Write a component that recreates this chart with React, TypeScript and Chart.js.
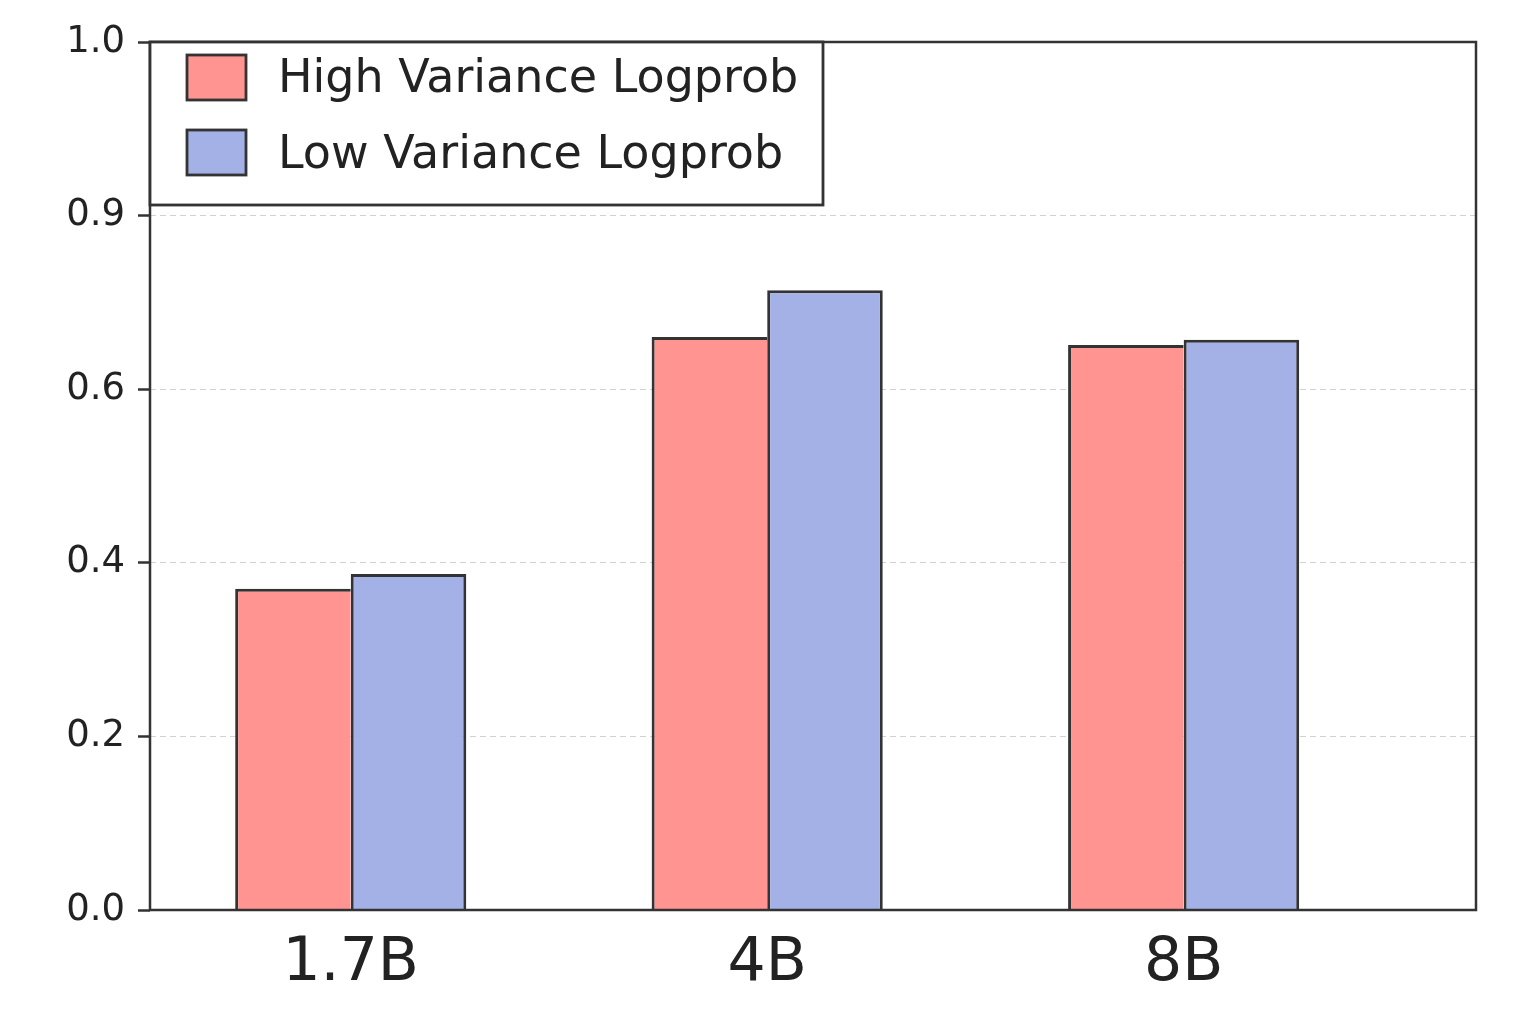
import React, { useEffect, useRef } from 'react';
import { Chart, registerables } from 'chart.js';

Chart.register(...registerables);

const CATEGORIES = ['1.7B', '4B', '8B'];
const SERIES_LABELS = ['High Variance Logprob', 'Low Variance Logprob'];
const HIGH_VARIANCE = [0.370, 0.660, 0.651];
const LOW_VARIANCE = [0.387, 0.714, 0.657];
const Y_TICK_VALUES = [0, 0.2, 0.4, 0.6, 0.8, 1.0];
const Y_TICK_LABELS = ['0.0', '0.2', '0.4', '0.6', '0.9', '1.0'];

const FONT = '"DejaVu Sans", sans-serif';
const DARK = '#333333';
const TEXT = '#222222';
const RED = '#FF9490';
const BLUE = '#A3B1E6';

const framePlugin = {
  id: 'frame',
  afterDatasetsDraw(chart: any) {
    const { ctx, chartArea: a } = chart;
    ctx.save();
    ctx.strokeStyle = DARK;
    ctx.lineWidth = 2.5;
    ctx.strokeRect(a.left, a.top, a.right - a.left, a.bottom - a.top);
    ctx.restore();
  },
};

const legendPlugin = {
  id: 'boxLegend',
  afterDraw(chart: any) {
    const { ctx, chartArea: a } = chart;
    const x0 = a.left;
    const y0 = a.top;
    ctx.save();
    ctx.fillStyle = '#ffffff';
    ctx.fillRect(x0, y0, 673, 163);
    ctx.strokeStyle = DARK;
    ctx.lineWidth = 2.8;
    ctx.strokeRect(x0, y0, 673, 163);
    chart.data.datasets.forEach((ds: any, i: number) => {
      const sy = y0 + 13 + i * 75;
      ctx.fillStyle = ds.backgroundColor;
      ctx.fillRect(x0 + 37, sy, 59, 45);
      ctx.strokeStyle = DARK;
      ctx.lineWidth = 2.8;
      ctx.strokeRect(x0 + 37, sy, 59, 45);
      ctx.fillStyle = TEXT;
      ctx.font = `46px ${FONT}`;
      ctx.textAlign = 'left';
      ctx.textBaseline = 'alphabetic';
      ctx.fillText(ds.label, x0 + 128, y0 + 50 + i * 76);
    });
    ctx.restore();
  },
};

export default function App() {
  const canvasRef = useRef<HTMLCanvasElement | null>(null);

  useEffect(() => {
    const canvas = canvasRef.current;
    if (!canvas) return;
    const chart = new Chart(canvas, {
      type: 'bar',
      data: {
        datasets: [
          {
            label: SERIES_LABELS[0],
            data: HIGH_VARIANCE.map((v, i) => ({ x: i, y: v })),
            backgroundColor: RED,
            borderColor: DARK,
            borderWidth: { left: 3, top: 3, right: 0, bottom: 0 },
            borderSkipped: false,
          },
          {
            label: SERIES_LABELS[1],
            data: LOW_VARIANCE.map((v, i) => ({ x: i, y: v })),
            backgroundColor: BLUE,
            borderColor: DARK,
            borderWidth: { left: 3, top: 3, right: 3, bottom: 0 },
            borderSkipped: false,
          },
        ],
      },
      options: {
        animation: false,
        responsive: true,
        maintainAspectRatio: false,
        categoryPercentage: 0.555,
        barPercentage: 1.0,
        layout: { padding: { top: 42, right: 60, left: 0, bottom: 0 } },
        plugins: {
          legend: { display: false },
          tooltip: { enabled: false },
        },
        scales: {
          x: {
            type: 'linear',
            min: -0.482,
            max: 2.702,
            offset: false,
            grid: { display: false, drawTicks: false, offset: false },
            border: { display: false },
            afterBuildTicks: (scale: any) => {
              scale.ticks = CATEGORIES.map((_, i) => ({ value: i }));
            },
            afterFit: (scale: any) => {
              scale.height = 114;
            },
            ticks: {
              autoSkip: false,
              maxRotation: 0,
              padding: 18,
              color: TEXT,
              font: { family: FONT, size: 60 },
              callback: (value: any) => CATEGORIES[Math.round(Number(value))] ?? '',
            },
          },
          y: {
            type: 'linear',
            min: 0,
            max: 1,
            grid: {
              color: '#d2d2d2',
              lineWidth: 1,
              drawTicks: true,
              tickLength: 12,
              tickColor: DARK,
              tickWidth: 2.5,
            },
            border: { display: false, dash: [6, 4] },
            afterBuildTicks: (scale: any) => {
              scale.ticks = Y_TICK_VALUES.map((v) => ({ value: v }));
            },
            afterFit: (scale: any) => {
              scale.width = 150;
            },
            ticks: {
              padding: 13,
              color: TEXT,
              font: { family: FONT, size: 37 },
              callback: (value: any) => {
                const idx = Y_TICK_VALUES.findIndex((t) => Math.abs(t - Number(value)) < 1e-6);
                return idx >= 0 ? Y_TICK_LABELS[idx] : '';
              },
            },
          },
        },
      },
      plugins: [framePlugin, legendPlugin],
    } as any);
    return () => chart.destroy();
  }, []);

  return (
    <div style={{ position: 'fixed', left: 0, top: 0, width: 1536, height: 1024, background: '#ffffff' }}>
      <canvas ref={canvasRef} />
    </div>
  );
}
